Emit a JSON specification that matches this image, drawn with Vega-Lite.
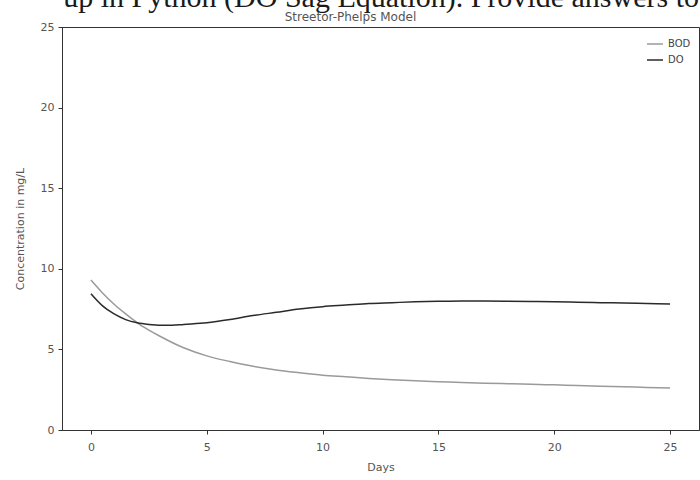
{
  "$schema": "https://vega.github.io/schema/vega-lite/v6.json",
  "width": 637,
  "height": 403,
  "autosize": {"type": "none"},
  "padding": {"left": 62, "top": 27, "right": 1, "bottom": 50},
  "background": "white",
  "title": {
    "text": "up in Python (DO Sag Equation). Provide answers to",
    "anchor": "end",
    "font": "Liberation Serif",
    "fontSize": 30,
    "fontWeight": "normal",
    "color": "#1a1a1a",
    "offset": -3
  },
  "config": {
    "view": {"stroke": "#333333", "strokeWidth": 1},
    "axis": {
      "grid": false,
      "domainColor": "#333333",
      "tickColor": "#333333",
      "labelColor": "#555555",
      "titleColor": "#555555",
      "labelFont": "DejaVu Sans",
      "titleFont": "DejaVu Sans",
      "labelFontSize": 11,
      "titleFontSize": 11,
      "titleFontWeight": "normal",
      "tickSize": 4
    },
    "legend": {
      "orient": "top-right",
      "offset": 8,
      "labelFont": "DejaVu Sans",
      "labelFontSize": 10,
      "labelColor": "#444444",
      "symbolType": "stroke",
      "symbolSize": 256,
      "symbolStrokeWidth": 1.5,
      "rowPadding": 2
    }
  },
  "data": {
    "values": [
      {"day": 0, "series": "BOD", "value": 9.3},
      {"day": 0.5, "series": "BOD", "value": 8.5},
      {"day": 1, "series": "BOD", "value": 7.8},
      {"day": 1.5, "series": "BOD", "value": 7.2},
      {"day": 2, "series": "BOD", "value": 6.65},
      {"day": 2.5, "series": "BOD", "value": 6.2},
      {"day": 3, "series": "BOD", "value": 5.8},
      {"day": 4, "series": "BOD", "value": 5.1},
      {"day": 5, "series": "BOD", "value": 4.6},
      {"day": 6, "series": "BOD", "value": 4.25},
      {"day": 7, "series": "BOD", "value": 3.95},
      {"day": 8, "series": "BOD", "value": 3.72},
      {"day": 9, "series": "BOD", "value": 3.55},
      {"day": 10, "series": "BOD", "value": 3.4},
      {"day": 11, "series": "BOD", "value": 3.3},
      {"day": 12, "series": "BOD", "value": 3.2},
      {"day": 13, "series": "BOD", "value": 3.12},
      {"day": 14, "series": "BOD", "value": 3.05},
      {"day": 15, "series": "BOD", "value": 3.0},
      {"day": 16, "series": "BOD", "value": 2.95},
      {"day": 17, "series": "BOD", "value": 2.9},
      {"day": 18, "series": "BOD", "value": 2.87},
      {"day": 19, "series": "BOD", "value": 2.84},
      {"day": 20, "series": "BOD", "value": 2.8},
      {"day": 21, "series": "BOD", "value": 2.76},
      {"day": 22, "series": "BOD", "value": 2.72},
      {"day": 23, "series": "BOD", "value": 2.68},
      {"day": 24, "series": "BOD", "value": 2.64},
      {"day": 25, "series": "BOD", "value": 2.6},
      {"day": 0, "series": "DO", "value": 8.45},
      {"day": 0.5, "series": "DO", "value": 7.7},
      {"day": 1, "series": "DO", "value": 7.2},
      {"day": 1.5, "series": "DO", "value": 6.85},
      {"day": 2, "series": "DO", "value": 6.65},
      {"day": 2.5, "series": "DO", "value": 6.55},
      {"day": 3, "series": "DO", "value": 6.5},
      {"day": 3.5, "series": "DO", "value": 6.5},
      {"day": 4, "series": "DO", "value": 6.55},
      {"day": 5, "series": "DO", "value": 6.65},
      {"day": 6, "series": "DO", "value": 6.85},
      {"day": 7, "series": "DO", "value": 7.1},
      {"day": 8, "series": "DO", "value": 7.3},
      {"day": 9, "series": "DO", "value": 7.5},
      {"day": 10, "series": "DO", "value": 7.65},
      {"day": 11, "series": "DO", "value": 7.75},
      {"day": 12, "series": "DO", "value": 7.85},
      {"day": 13, "series": "DO", "value": 7.9},
      {"day": 14, "series": "DO", "value": 7.95},
      {"day": 15, "series": "DO", "value": 7.98},
      {"day": 16, "series": "DO", "value": 8.0},
      {"day": 17, "series": "DO", "value": 8.0},
      {"day": 18, "series": "DO", "value": 7.99},
      {"day": 19, "series": "DO", "value": 7.97},
      {"day": 20, "series": "DO", "value": 7.95},
      {"day": 21, "series": "DO", "value": 7.93},
      {"day": 22, "series": "DO", "value": 7.9},
      {"day": 23, "series": "DO", "value": 7.88},
      {"day": 24, "series": "DO", "value": 7.85},
      {"day": 25, "series": "DO", "value": 7.82}
    ]
  },
  "layer": [
    {
      "mark": {"type": "line", "interpolate": "monotone", "strokeWidth": 1.5},
      "encoding": {
        "x": {
          "field": "day",
          "type": "quantitative",
          "scale": {"domain": [-1.25, 26.25], "nice": false, "zero": false},
          "axis": {"orient": "bottom", "title": "Days", "values": [0, 5, 10, 15, 20, 25], "labelPadding": 7, "titlePadding": 9}
        },
        "y": {
          "field": "value",
          "type": "quantitative",
          "scale": {"domain": [0, 25], "nice": false},
          "axis": {"title": "Concentration in mg/L", "values": [0, 5, 10, 15, 20, 25], "labelPadding": 4, "titlePadding": 15}
        },
        "color": {
          "field": "series",
          "type": "nominal",
          "scale": {"domain": ["BOD", "DO"], "range": ["#9a9a9a", "#2a2a2a"]},
          "legend": {"title": null}
        }
      }
    },
    {
      "mark": {"type": "point", "opacity": 0},
      "encoding": {
        "x": {
          "field": "day",
          "type": "quantitative",
          "axis": {"orient": "top", "title": "Streetor-Phelps Model", "titleFontSize": 12, "titleX": 288, "titlePadding": 4, "labels": false, "ticks": false, "domain": false}
        }
      }
    }
  ],
  "resolve": {"axis": {"x": "independent"}}
}
